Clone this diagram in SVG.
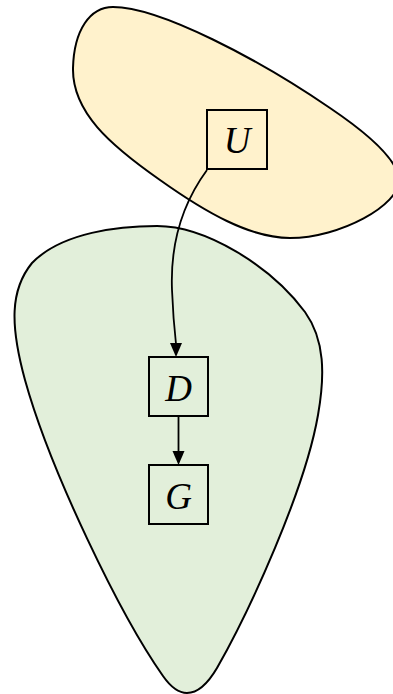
<svg xmlns="http://www.w3.org/2000/svg" width="393" height="694" viewBox="0 0 393 694">
<defs>
<style>
.blob{stroke:#000;stroke-width:2;}
.box{fill:none;stroke:#000;stroke-width:2;}
.lbl{font-family:"Liberation Serif","DejaVu Serif",serif;font-style:italic;font-size:37px;text-anchor:middle;fill:#000;}
.edge{fill:none;stroke:#000;stroke-width:1.8;}
.head{fill:#000;}
</style>
</defs>
<g id="region-yellow">
<path class="blob" fill="#fff2cc" d="M113 7 C160 7 260 60 330 108 C370 135 398 160 399 180 C400 205 340 238 290 238 C250 238 205 212 160 180 C110 145 72 112 73 68 C74 30 90 7 113 7 Z"/>
</g>
<g id="region-green">
<path class="blob" fill="#e2efda" d="M157 226 C205 226 270 265 305 312 C325 340 325 375 318 415 C305 490 250 610 217 668 C207 685 197 693 187 693 C178 693 170 686 163 676 C120 615 50 470 25 380 C10 325 10 290 32 263 C62 232 120 226 157 226 Z"/>
</g>
<g id="connectors">
<path class="edge" d="M207 170 C185 200 170 240 172 290 C173 315 175 335 176 344"/>
<path class="head" d="M170 343 L182 343 L176 357 Z"/>
<path class="edge" d="M178.5 416 L178.5 452"/>
<path class="head" d="M172.5 451 L184.5 451 L178.5 465 Z"/>
</g>
<g id="node-U">
<rect class="box" x="207" y="110" width="60" height="59"/>
<text class="lbl" x="237" y="153">U</text>
</g>
<g id="node-D">
<rect class="box" x="149" y="357" width="59" height="59"/>
<text class="lbl" x="178.5" y="401">D</text>
</g>
<g id="node-G">
<rect class="box" x="149" y="465" width="59" height="59"/>
<text class="lbl" x="178.5" y="509">G</text>
</g>
</svg>
